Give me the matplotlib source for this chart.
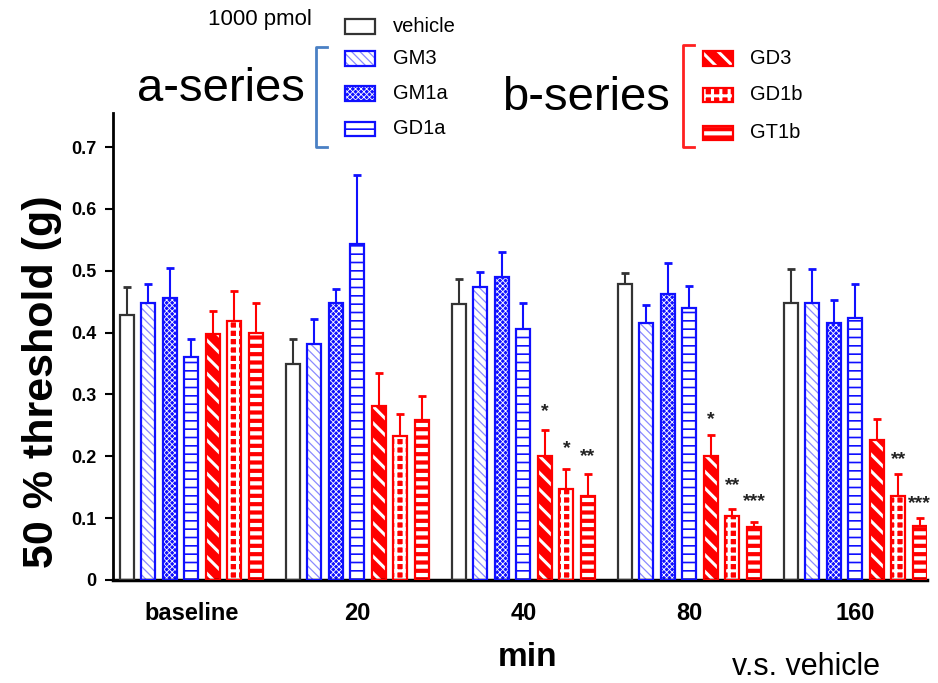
import matplotlib
matplotlib.use('Agg')
import matplotlib.pyplot as plt
from matplotlib.patches import Rectangle
from matplotlib.lines import Line2D
import numpy as np

plt.rcParams['font.family'] = ['Liberation Sans', 'DejaVu Sans']

groups = ['baseline', '20', '40', '80', '160']
series = ['vehicle', 'GM3', 'GM1a', 'GD1a', 'GD3', 'GD1b', 'GT1b']

# mean 50 % threshold (g) per time point
vehicle = [0.429, 0.349, 0.447, 0.478, 0.448]
gm3 = [0.448, 0.381, 0.474, 0.416, 0.448]
gm1a = [0.456, 0.448, 0.490, 0.462, 0.416]
gd1a = [0.360, 0.543, 0.405, 0.440, 0.424]
gd3 = [0.397, 0.281, 0.200, 0.200, 0.227]
gd1b = [0.419, 0.233, 0.147, 0.104, 0.136]
gt1b = [0.400, 0.258, 0.136, 0.086, 0.088]

# top of the error bars (mean + SEM)
vehicle_top = [0.474, 0.389, 0.487, 0.497, 0.502]
gm3_top = [0.478, 0.422, 0.498, 0.445, 0.502]
gm1a_top = [0.505, 0.471, 0.531, 0.512, 0.453]
gd1a_top = [0.389, 0.654, 0.448, 0.475, 0.478]
gd3_top = [0.435, 0.335, 0.243, 0.235, 0.260]
gd1b_top = [0.467, 0.268, 0.179, 0.115, 0.171]
gt1b_top = [0.448, 0.297, 0.171, 0.093, 0.101]

# significance v.s. vehicle
sig_group = ['40', '40', '40', '80', '80', '80', '160', '160']
sig_series = ['GD3', 'GD1b', 'GT1b', 'GD3', 'GD1b', 'GT1b', 'GD1b', 'GT1b']
sig_text = ['*', '*', '**', '*', '**', '***', '**', '***']
sig_y = [0.272, 0.212, 0.199, 0.260, 0.153, 0.126, 0.194, 0.123]

yticks = [0, 0.1, 0.2, 0.3, 0.4, 0.5, 0.6, 0.7]
ytick_labels = ['0', '0.1', '0.2', '0.3', '0.4', '0.5', '0.6', '0.7']

means = [vehicle, gm3, gm1a, gd1a, gd3, gd1b, gt1b]
tops = [vehicle_top, gm3_top, gm1a_top, gd1a_top, gd3_top, gd1b_top, gt1b_top]

BLUE = '#1010ff'
RED = '#ff0000'
# face colour, hatch, hatch colour, hatch linewidth, outline colour
styles = {
    'vehicle': ('white', None, 'white', 1.0, '#333333'),
    'GM3': ('white', '\\\\\\\\', '#8a8aff', 0.9, BLUE),
    'GM1a': (BLUE, 'xxxxxx', 'white', 0.6, BLUE),
    'GD1a': ('white', '--', BLUE, 1.2, BLUE),
    'GD3': (RED, '\\\\', 'white', 2.2, RED),
    'GD1b': (RED, '++', 'white', 2.2, RED),
    'GT1b': ('white', '--', RED, 3.0, RED),
}

GROUP_STEP = 7.72
WIDTH = 0.65


def hatched_patch(p, hlw):
    if hasattr(p, 'set_hatch_linewidth'):
        p.set_hatch_linewidth(hlw)


fig = plt.figure(figsize=(9.38, 6.83), dpi=100)
W, H = 938.0, 683.0
ax = fig.add_axes([113 / W, 103 / H, 814 / W, 467 / H])

gx = np.arange(len(groups)) * GROUP_STEP
for j, name in enumerate(series):
    face, hatch, hc, hlw, edge = styles[name]
    x = gx + j
    m = np.array(means[j])
    t = np.array(tops[j])
    bars = ax.bar(x, m, WIDTH, color=face, edgecolor=hc, hatch=hatch,
                  linewidth=0, zorder=2)
    for b in bars:
        hatched_patch(b, hlw)
    ax.bar(x, m, WIDTH, fill=False, edgecolor=edge, linewidth=1.6, zorder=3)
    ax.errorbar(x, m, yerr=[np.zeros_like(m), t - m], fmt='none',
                ecolor=edge, elinewidth=1.5, capsize=3, capthick=2, zorder=1)

for g, s, txt, y in zip(sig_group, sig_series, sig_text, sig_y):
    x = groups.index(g) * GROUP_STEP + series.index(s)
    ax.text(x, y, txt, ha='center', va='center', fontsize=14,
            fontweight='bold', color='#222222')

ax.set_xlim(-0.65, 4 * GROUP_STEP + 6 + 0.33)
ax.set_ylim(0, 0.755)
ax.set_yticks(yticks)
ax.set_yticklabels(ytick_labels, fontsize=13, fontweight='bold')
ax.set_xticks(gx + 3)
ax.set_xticklabels(groups, fontsize=17, fontweight='bold')
ax.tick_params(axis='x', length=0, pad=16)
ax.tick_params(axis='y', length=6, width=1.5, pad=6)
for side in ['top', 'right']:
    ax.spines[side].set_visible(False)
ax.spines['left'].set_linewidth(2)
ax.spines['bottom'].set_linewidth(2.5)

ax.set_ylabel('50 % threshold (g)', fontsize=31, fontweight='bold')
ax.yaxis.set_label_coords(62 / W, 1 - 382 / H, transform=fig.transFigure)

fig.text(528 / W, 1 - 657 / H, 'min', fontsize=24, fontweight='bold',
         ha='center', va='center')
fig.text(806 / W, 1 - 667 / H, 'v.s. vehicle', fontsize=22,
         ha='center', va='center')

# key at the top, drawn in figure pixels
fig.text(260 / W, 1 - 19 / H, '1000 pmol', fontsize=16, ha='center', va='center')
fig.text(305 / W, 1 - 101 / H, 'a-series', fontsize=34, ha='right', va='baseline')
fig.text(670 / W, 1 - 110 / H, 'b-series', fontsize=34, ha='right', va='baseline')

key_a = [('vehicle', 26.5), ('GM3', 58.5), ('GM1a', 93.5), ('GD1a', 128.5)]
key_b = [('GD3', 58.5), ('GD1b', 95), ('GT1b', 132.5)]


def key_entry(name, px, py, tx):
    face, hatch, hc, hlw, edge = styles[name]
    r = Rectangle((px / W, 1 - (py + 7) / H), 30 / W, 14 / H,
                  transform=fig.transFigure, facecolor=face, edgecolor=hc,
                  hatch=hatch, linewidth=0)
    hatched_patch(r, hlw)
    fig.add_artist(r)
    fig.add_artist(Rectangle((px / W, 1 - (py + 7) / H), 30 / W, 14 / H,
                             transform=fig.transFigure, fill=False,
                             edgecolor=edge, linewidth=1.6))
    fig.text(tx / W, 1 - py / H, name, fontsize=14.5, ha='left', va='center')


for name, py in key_a:
    key_entry(name, 345, py, 393)
for name, py in key_b:
    key_entry(name, 703, py, 750)


def bracket(x0, y0, y1, color):
    xs = [(x0 + 11) / W, x0 / W, x0 / W, (x0 + 11) / W]
    ys = [1 - y0 / H, 1 - y0 / H, 1 - y1 / H, 1 - y1 / H]
    fig.add_artist(Line2D(xs, ys, color=color, linewidth=2,
                          transform=fig.transFigure))


bracket(316, 47, 147, '#4a80c4')
bracket(683, 45, 147, '#ff2020')

fig.savefig('out.png', dpi=100)
